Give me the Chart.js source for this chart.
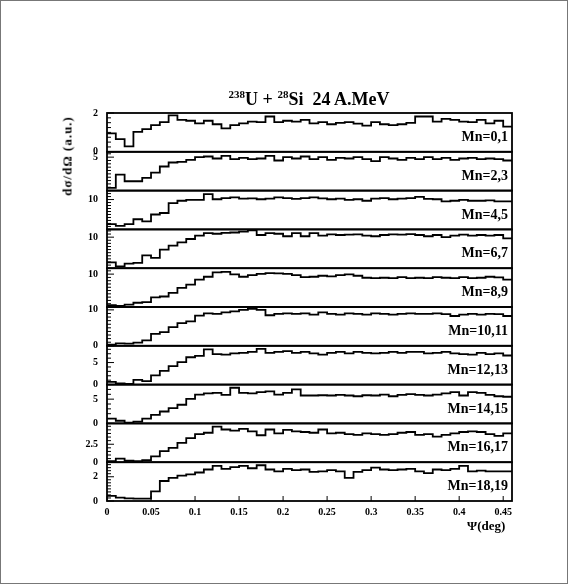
<!DOCTYPE html>
<html><head><meta charset="utf-8">
<script src="https://cdn.jsdelivr.net/npm/chart.js@4.4.1/dist/chart.umd.min.js"></script>
<style>
html,body{margin:0;padding:0;background:#fff;}
#wrap{position:relative;width:568px;height:584px;overflow:hidden;background:#fff;}
#frame{position:absolute;left:0;top:0;width:568px;height:584px;box-sizing:border-box;border:1px solid #777;pointer-events:none;}
canvas{position:absolute;left:0;top:0;}
.t{position:absolute;font-family:"Liberation Serif","DejaVu Serif",serif;font-weight:bold;color:#000;white-space:nowrap;line-height:1;}
#title{left:309px;top:90px;font-size:18px;transform:translateX(-50%);}
#title sup{font-size:11px;vertical-align:7px;line-height:0;}
#ytitle{left:67px;top:156px;font-size:13px;letter-spacing:1px;transform:translate(-50%,-50%) rotate(-90deg);}
#xtitle{left:467px;top:519px;font-size:13px;}
</style></head><body>
<div id="wrap">
<canvas id="c" width="568" height="584"></canvas>
<div class="t" id="title"><sup>238</sup>U + <sup>28</sup>Si&nbsp; 24 A.MeV</div>
<div class="t" id="ytitle">dσ/dΩ (a.u.)</div>
<div class="t" id="xtitle">Ψ(deg)</div>
<div id="frame"></div>
</div>
<script>
// ---- data ----
const binWidth = 0.01;
const xMax = 0.46;
const xTickValues = [0, 0.05, 0.1, 0.15, 0.2, 0.25, 0.3, 0.35, 0.4, 0.45];
const xTickLabels = ['0', '0.05', '0.1', '0.15', '0.2', '0.25', '0.3', '0.35', '0.4', '0.45'];
const panelLabels = ['Mn=0,1', 'Mn=2,3', 'Mn=4,5', 'Mn=6,7', 'Mn=8,9', 'Mn=10,11', 'Mn=12,13', 'Mn=14,15', 'Mn=16,17', 'Mn=18,19'];
const yMaxima = [2.0, 5.8, 13, 12.5, 11.8, 10.8, 8.8, 8.0, 5.4, 3.2];
const yMinorSteps = [0.25, 0.5, 1, 1, 1, 1, 1, 1, 0.5, 0.25];
const yLabelled = [[0, 2], [5], [10], [10], [10], [0, 10], [0, 5], [0, 5], [0, 2.5], [0, 2]];

const mn01 = [0.95,0.65,0.28,1.03,1.17,1.38,1.53,1.88,1.65,1.6,1.47,1.6,1.42,1.21,1.38,1.47,1.56,1.53,1.82,1.53,1.6,1.56,1.65,1.47,1.53,1.42,1.49,1.53,1.45,1.35,1.53,1.42,1.38,1.42,1.49,1.82,1.82,1.56,1.7,1.65,1.56,1.53,1.65,1.47,1.6,1.3];
const mn23 = [0.4,2.4,1.4,1.4,1.9,2.7,3.6,4.2,4.3,4.6,5.0,5.1,4.8,5.2,4.7,4.9,4.7,4.8,5.2,4.5,5.0,4.8,5.1,4.7,5.0,4.6,4.9,4.8,5.0,4.7,4.4,5.0,4.8,4.6,4.9,4.7,5.0,4.7,4.9,4.6,4.8,4.9,4.7,4.8,4.7,4.5];
const mn45 = [1.8,1.2,1.8,3.4,2.7,5.0,5.5,8.8,9.6,9.9,9.9,11.8,10.1,10.5,10.7,10.3,10.4,10.1,10.3,10.7,10.5,10.2,10.5,10.7,10.4,10.1,10.3,9.9,10.1,9.6,10.3,10.5,10.1,10.3,10.5,10.9,10.2,10.1,9.4,9.6,9.9,9.6,9.6,9.7,9.4,9.4];
const mn67 = [1.9,0.6,1.5,1.7,4.1,3.3,6.0,7.3,8.3,9.4,10.5,11.3,11.1,11.4,11.5,11.8,12.2,10.7,11.3,11.1,10.3,11.3,10.3,11.3,10.5,10.9,10.7,10.8,10.9,10.5,10.3,10.7,10.9,10.8,11.0,10.7,10.3,10.7,10.0,10.5,10.8,10.5,10.7,10.5,10.7,9.6];
const mn89 = [0.6,0.3,0.7,1.3,1.5,2.9,3.2,4.3,5.8,6.8,8.3,9.2,10.5,10.7,9.9,9.2,9.7,10.1,10.3,10.2,10.1,9.7,9.1,9.2,9.5,9.3,9.7,9.9,9.5,8.9,8.8,8.9,8.8,9.1,8.8,8.9,8.8,9.1,8.9,8.8,9.1,8.8,8.9,9.2,9.0,8.3];
const mn1011 = [0.3,0.7,0.6,0.9,1.5,3.3,3.8,5.2,6.3,6.8,8.4,9.0,8.9,9.3,9.6,10.0,10.3,10.0,8.5,8.9,9.0,8.9,9.0,8.7,9.3,8.9,8.7,9.0,8.9,8.7,9.0,8.9,8.7,8.9,9.0,8.9,8.9,9.0,8.8,8.3,8.7,8.9,8.7,8.9,8.8,8.3];
const mn1213 = [0.6,0.3,0.15,1.05,0.8,2.1,3.1,4.2,5.1,6.2,6.5,8.0,6.9,6.8,7.1,7.2,7.4,8.1,7.2,7.4,7.6,7.2,7.4,7.1,6.8,7.2,7.4,7.1,7.4,7.2,7.1,7.2,7.4,7.2,7.4,7.4,7.1,7.2,7.4,7.1,6.9,6.8,7.2,6.9,7.1,6.6];
const mn1415 = [1.0,0.55,0.15,0.35,1.0,1.75,2.45,3.15,3.85,5.05,5.95,6.2,6.3,5.9,7.35,6.3,6.2,6.45,6.6,5.95,6.3,7.0,5.75,5.75,5.8,5.75,5.9,5.75,5.6,5.8,5.75,5.95,5.6,5.9,6.05,5.9,5.75,5.95,6.2,6.45,5.75,6.45,6.3,5.9,5.6,5.5];
const mn1617 = [0.15,0.5,0.2,0.15,0.3,0.8,1.55,2.0,2.7,3.35,3.9,4.1,4.95,4.55,4.4,4.65,4.3,3.75,4.55,4.0,4.5,4.3,4.2,4.1,4.55,4.0,4.1,3.9,3.8,4.0,3.9,3.8,3.9,4.1,4.2,3.8,3.9,3.55,3.8,4.0,4.2,4.3,4.2,3.9,3.65,4.0];
const mn1819 = [0.42,0.28,0.22,0.2,0.2,0.8,1.65,1.9,2.1,2.2,2.35,2.6,2.9,2.65,2.8,2.9,2.7,2.95,2.6,2.45,2.65,2.55,2.6,2.4,2.45,2.55,2.45,1.9,2.4,2.55,2.75,2.6,2.55,2.6,2.65,2.45,2.3,2.6,2.55,2.65,2.9,2.45,2.5,2.45,2.45,2.45];

const series = [mn01, mn23, mn45, mn67, mn89, mn1011, mn1213, mn1415, mn1617, mn1819];

// ---- chart ----
const FAMILY = '"Liberation Serif", "DejaVu Serif", serif';
const near = (a, b) => Math.abs(a - b) < 1e-6;

function histPoints(vals) {
  const pts = vals.map((v, i) => ({ x: +(i * binWidth).toFixed(4), y: v }));
  pts.push({ x: xMax, y: vals[vals.length - 1] });
  return pts;
}

const scales = {
  x: {
    type: 'linear', min: 0, max: xMax,
    afterBuildTicks: s => { s.ticks = xTickValues.map(v => ({ value: v })); },
    ticks: {
      autoSkip: false, maxRotation: 0, padding: 5, color: '#000',
      font: { family: FAMILY, size: 10, weight: 'bold' },
      callback: (v) => { const k = xTickValues.findIndex(t => near(t, v)); return k >= 0 ? xTickLabels[k] : ''; }
    },
    grid: { display: false, drawTicks: false },
    border: { display: false },
    afterFit: s => { s.height = 22; }
  }
};

series.forEach((vals, i) => {
  scales['y' + i] = {
    type: 'linear', position: 'left', stack: 'panels', stackWeight: 1, weight: 10 - i,
    min: 0, max: yMaxima[i],
    afterBuildTicks: s => {
      const t = [];
      for (let k = 0; k * yMinorSteps[i] <= yMaxima[i] + 1e-9; k++) t.push({ value: +(k * yMinorSteps[i]).toFixed(4) });
      s.ticks = t;
    },
    ticks: {
      autoSkip: false, padding: 9, color: '#000',
      font: { family: FAMILY, size: 10, weight: 'bold' },
      callback: (v) => yLabelled[i].some(l => near(l, v)) ? String(v) : ''
    },
    grid: { display: false, drawTicks: false },
    border: { display: false },
    afterFit: s => { s.width = 107; }
  };
});

const datasets = series.map((vals, i) => ({
  label: panelLabels[i],
  data: histPoints(vals),
  yAxisID: 'y' + i,
  stepped: 'before',
  borderColor: '#000',
  borderWidth: 1.8,
  pointRadius: 0,
  fill: false
}));

const panelPlugin = {
  id: 'panels',
  afterDatasetsDraw(chart) {
    const ctx = chart.ctx, area = chart.chartArea;
    ctx.save();
    ctx.strokeStyle = '#000';
    ctx.fillStyle = '#000';
    series.forEach((vals, i) => {
      const s = chart.scales['y' + i];
      ctx.lineWidth = 1;
      s.ticks.forEach(t => {
        const y = s.getPixelForValue(t.value);
        const major = yLabelled[i].some(l => near(l, t.value));
        ctx.beginPath();
        ctx.moveTo(area.left, y);
        ctx.lineTo(area.left + (major ? 7 : 4), y);
        ctx.stroke();
      });
      ctx.lineWidth = 1.8;
      ctx.strokeRect(area.left, s.top, area.right - area.left, s.bottom - s.top);
      ctx.font = 'bold 14px ' + FAMILY;
      ctx.textAlign = 'right';
      ctx.textBaseline = 'middle';
      ctx.fillText(panelLabels[i], area.right - 4, s.top + 0.63 * (s.bottom - s.top));
    });
    const xs = chart.scales.x;
    ctx.lineWidth = 1;
    xs.ticks.forEach(t => {
      const x = xs.getPixelForValue(t.value);
      ctx.beginPath();
      ctx.moveTo(x, area.bottom);
      ctx.lineTo(x, area.bottom - 5);
      ctx.stroke();
    });
    ctx.restore();
  }
};

new Chart(document.getElementById('c'), {
  type: 'line',
  data: { datasets },
  options: {
    responsive: false,
    animation: false,
    parsing: true,
    layout: { padding: { left: 0, top: 113, right: 56, bottom: 61 } },
    plugins: { legend: { display: false }, title: { display: false }, tooltip: { enabled: false } },
    scales
  },
  plugins: [panelPlugin]
});
</script>
</body></html>
